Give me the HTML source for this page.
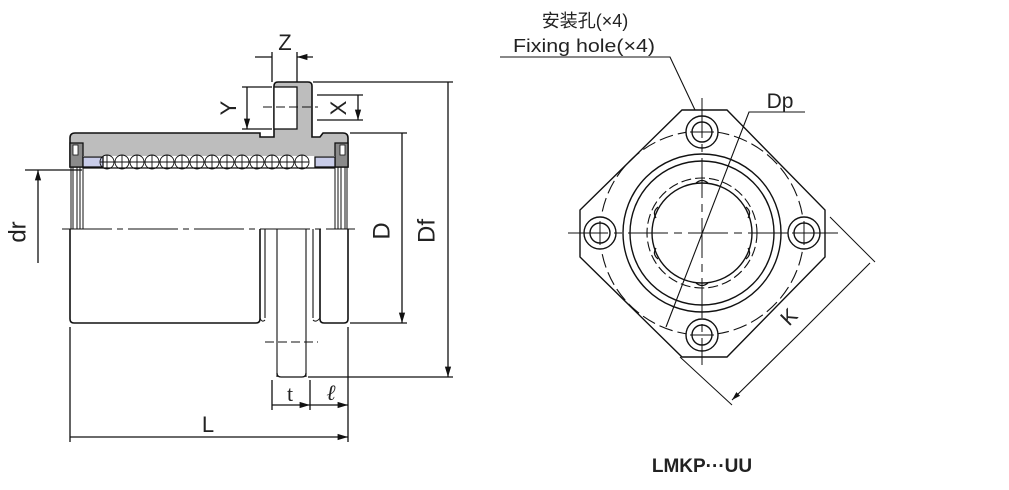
<!DOCTYPE html>
<html><head><meta charset="utf-8"><style>
html,body{margin:0;padding:0;background:#fff;}
svg{display:block;}
text{font-family:"Liberation Sans","Noto Sans CJK SC",sans-serif;fill:#222;}
</style></head><body>
<svg width="1009" height="490" viewBox="0 0 1009 490" xmlns="http://www.w3.org/2000/svg">
<defs>
<marker id="a" viewBox="0 0 10 10" refX="10" refY="5" markerWidth="8" markerHeight="8" orient="auto-start-reverse"><path d="M0,2 L10,5 L0,8 z" fill="#111"/></marker>
</defs>
<g stroke="#111" fill="none" stroke-width="1.3">
<path d="M70,167 L70,138 Q70,133 75,133 L260,133 L260,137 L274,137 L274,86 Q274,82 278,82 L308,82 Q312,82 312,86 L312,137 L320,137 L323,133 L343,133 Q348,133 348,138 L348,167 L70,167 Z" fill="#bdbdbd" stroke-width="1.6"/>
<rect x="274" y="87" width="23" height="42" fill="#fff"/>
<rect x="70" y="143" width="13" height="24" fill="#8a8a8a"/>
<rect x="335" y="143" width="13" height="24" fill="#8a8a8a"/>
<rect x="73" y="145" width="5" height="10" fill="#fff" stroke-width="0.8"/>
<rect x="340" y="145" width="5" height="10" fill="#fff" stroke-width="0.8"/>
<rect x="83" y="156" width="252" height="12" fill="#fff" stroke="none"/>
<rect x="83" y="157" width="20" height="10" fill="#c8cce8"/>
<rect x="315" y="157" width="20" height="10" fill="#c8cce8"/>
<line x1="83" y1="168" x2="335" y2="168"/>
<g stroke-width="0.9">
<circle cx="107" cy="162" r="7"/><circle cx="122" cy="162" r="7"/><circle cx="137" cy="162" r="7"/><circle cx="152" cy="162" r="7"/><circle cx="167" cy="162" r="7"/><circle cx="182" cy="162" r="7"/><circle cx="197" cy="162" r="7"/><circle cx="212" cy="162" r="7"/><circle cx="227" cy="162" r="7"/><circle cx="242" cy="162" r="7"/><circle cx="257" cy="162" r="7"/><circle cx="272" cy="162" r="7"/><circle cx="287" cy="162" r="7"/><circle cx="302" cy="162" r="7"/>
<path d="M100,162H309 M107,155V169 M122,155V169 M137,155V169 M152,155V169 M167,155V169 M182,155V169 M197,155V169 M212,155V169 M227,155V169 M242,155V169 M257,155V169 M272,155V169 M287,155V169 M302,155V169"/>
</g>
<path d="M71,167V229 M73,167V229 M77,167V229 M80,167V229 M83,167V229 M335,167V229 M338,167V229 M341,167V229 M345,167V229 M347,167V229" stroke-width="1"/>
<path d="M70,229 V319 Q70,323 74,323 L256,323 Q260,323 260,319 V229" stroke-width="1.6"/>
<path d="M265,229V318 M277,229V377 M306,229V377 M313,229V318 M320,229V318" stroke-width="1.1"/>
<path d="M277,373 Q277,377 281,377 L302,377 Q306,377 306,373"/>
<path d="M320,229 V319 Q320,323 324,323 L344,323 Q348,323 348,319 V229" stroke-width="1.6"/>
<path d="M260,318 Q262,323 265,320 M313,320 Q316,323 320,318" stroke-width="1"/>
<path d="M265,342 H318" stroke-dasharray="9,4" stroke-width="1"/>
<path d="M62,229 H355" stroke-dasharray="50,5,6,5" stroke-width="1.1"/>
<path d="M263,107 H318" stroke-dasharray="9,4" stroke-width="1"/>
<path d="M272,52V82 M297,52V82"/>
<path d="M255,57H272 M313,57H297" marker-end="url(#a)"/>
<path d="M242,87H272 M242,129H272"/>
<path d="M247,107V87 M247,107V129" marker-end="url(#a)"/>
<path d="M317,95H363 M317,120H363"/>
<path d="M358,107V95 M358,107V120" marker-end="url(#a)"/>
<path d="M350,133H407 M350,323H407"/>
<path d="M402,228V133 M402,228V323" marker-end="url(#a)"/>
<path d="M313,82H453 M308,377H453"/>
<path d="M448,230V82 M448,230V377" marker-end="url(#a)"/>
<path d="M25,170H82"/>
<path d="M38,263V170" marker-end="url(#a)"/>
<path d="M70,327V442 M348,327V442 M272,380V410 M310,380V410"/>
<path d="M208,437H70 M208,437H348" marker-end="url(#a)"/>
<path d="M291,405H272 M291,405H310" marker-end="url(#a)"/>
<path d="M329,405H310 M329,405H348" marker-end="url(#a)"/>
</g>
<g font-size="22">
<text x="285" y="50" text-anchor="middle">Z</text>
<text x="230" y="108" text-anchor="middle" transform="rotate(-90 230 108)" dominant-baseline="middle">Y</text>
<text x="340" y="108" text-anchor="middle" transform="rotate(-90 340 108)" dominant-baseline="middle">X</text>
<text x="383" y="231" text-anchor="middle" transform="rotate(-90 383 231)" dominant-baseline="middle" font-size="24">D</text>
<text x="428" y="231" text-anchor="middle" transform="rotate(-90 428 231)" dominant-baseline="middle" font-size="24">Df</text>
<text x="19" y="232" text-anchor="middle" transform="rotate(-90 19 232)" dominant-baseline="middle" font-size="24">dr</text>
<text x="208" y="432" text-anchor="middle">L</text>
<text x="290" y="401" text-anchor="middle" style="font-family:'Liberation Serif',serif">t</text>
<text x="331" y="400" text-anchor="middle" font-style="italic" style="font-family:'Liberation Serif',serif">ℓ</text>
</g>
<g stroke="#111" fill="none" stroke-width="1.4">
<path d="M682,110 L727,110 L825,210 L825,257 L727,357 L682,357 L580,257 L580,210 Z"/>
<circle cx="702" cy="233" r="102" stroke-dasharray="14,5" stroke-width="1.1"/>
<g fill="#fff">
<circle cx="702" cy="132" r="16"/><circle cx="702" cy="132" r="10"/>
<circle cx="600" cy="233" r="16"/><circle cx="600" cy="233" r="10"/>
<circle cx="804" cy="233" r="16"/><circle cx="804" cy="233" r="10"/>
<circle cx="702" cy="335" r="16"/><circle cx="702" cy="335" r="10"/>
</g>
<circle cx="702" cy="233" r="79"/>
<circle cx="702" cy="233" r="72"/>
<circle cx="702" cy="233" r="55" stroke-dasharray="10,4" stroke-width="1.1"/>
<circle cx="702" cy="233" r="50"/>
<path d="M696,183 Q702,178 708,183 M696,283 Q702,288 708,283 M658,207 Q652,212 656,218 M746,207 Q752,212 748,218 M658,259 Q652,254 656,248 M746,259 Q752,254 748,248" stroke-width="1.2"/>
<path d="M568,233H838 M702,98V365" stroke-dasharray="40,6,8,6" stroke-width="1"/>
<path d="M690,132H714 M600,221V245 M792,233H816 M804,221V245 M690,335H714" stroke-width="1"/>
<path d="M500,57H670 L695,110" stroke-width="1.1"/>
<path d="M666,327 L749,112 H805" stroke-width="1.1"/>
<path d="M830,217 L875,262 M680,357 L732,405" stroke-width="1"/>
<path d="M801,332 L870,263 M801,332 L732,400" marker-end="url(#a)" stroke-width="1.1"/>
</g>
<g font-size="18">
<text x="585" y="27" text-anchor="middle">安装孔(×4)</text>
<text x="584" y="52" text-anchor="middle" textLength="142" lengthAdjust="spacingAndGlyphs">Fixing hole(×4)</text>
<text x="780" y="108" text-anchor="middle" font-size="21">Dp</text>
<text x="790" y="318" text-anchor="middle" transform="rotate(-45 790 318)" dominant-baseline="middle" font-size="21">K</text>
</g>
<text x="702" y="472" text-anchor="middle" font-size="19" font-weight="bold">LMKP···UU</text>
</svg>
</body></html>
